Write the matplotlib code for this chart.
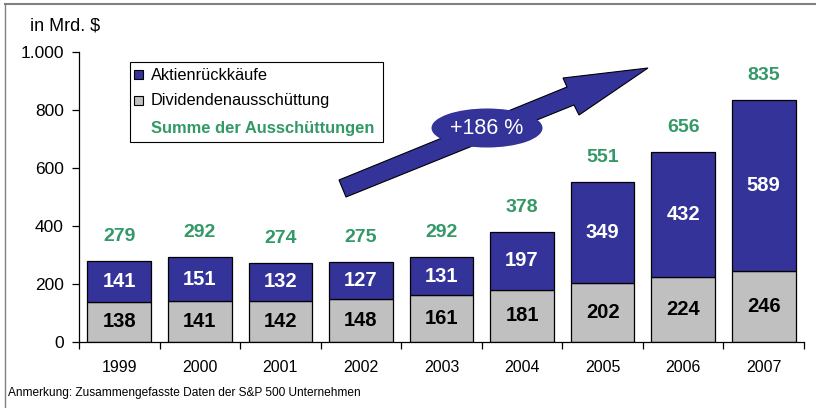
import matplotlib
matplotlib.use("Agg")
import matplotlib.pyplot as plt
from matplotlib.patches import Ellipse, Polygon, Rectangle
from matplotlib.lines import Line2D
import numpy as np

plt.rcParams['font.family'] = ['Liberation Sans', 'DejaVu Sans']

years = ["1999", "2000", "2001", "2002", "2003", "2004", "2005", "2006", "2007"]
dividends = [138, 141, 142, 148, 161, 181, 202, 224, 246]
buybacks = [141, 151, 132, 127, 131, 197, 349, 432, 589]
totals = [279, 292, 274, 275, 292, 378, 551, 656, 835]
yticks = [0, 200, 400, 600, 800, 1000]
ytick_labels = ["0", "200", "400", "600", "800", "1.000"]

BLUE = "#333399"
GRAY = "#C0C0C0"
GREEN = "#339966"

W, H = 816, 408
fig = plt.figure(figsize=(W / 100, H / 100), dpi=100)
ax = fig.add_axes([79 / W, 1 - 342 / H, (804 - 79) / W, (342 - 52) / H])

x = np.arange(len(years))
ax.bar(x, dividends, width=0.79, color=GRAY, edgecolor="black", linewidth=0.9, zorder=2)
ax.bar(x, buybacks, bottom=dividends, width=0.79, color=BLUE, edgecolor="black", linewidth=0.9, zorder=2)

for i in range(len(years)):
    ax.text(x[i], dividends[i] / 2, str(dividends[i]), ha="center", va="center",
            fontsize=14.5, fontweight="bold", color="black", zorder=3)
    ax.text(x[i], dividends[i] + buybacks[i] / 2, str(buybacks[i]), ha="center", va="center",
            fontsize=14.5, fontweight="bold", color="white", zorder=3)
    ax.text(x[i], totals[i] + 55, str(totals[i]), ha="center", va="bottom",
            fontsize=14, fontweight="bold", color=GREEN, zorder=3)

ax.set_xlim(-0.5, len(years) - 0.5)
ax.set_ylim(0, 1000)
ax.set_yticks(yticks)
ax.set_yticklabels(ytick_labels, fontsize=12.5)
ax.set_xticks(x)
ax.set_xticklabels(years, fontsize=11.5)
ax.set_xticks(np.arange(len(years) + 1) - 0.5, minor=True)
ax.tick_params(axis="x", which="major", length=0, pad=13)
ax.tick_params(axis="x", which="minor", length=5, direction="out", width=0.9)
ax.tick_params(axis="y", length=5, direction="out", width=0.9, pad=6)
for s in ["top", "right"]:
    ax.spines[s].set_visible(False)
for s in ["left", "bottom"]:
    ax.spines[s].set_linewidth(0.9)
ax.patch.set_alpha(0)

# Outer frame (top and left lines)
fig.add_artist(Line2D([5 / W, 1.0], [1 - 4 / H, 1 - 4 / H], transform=fig.transFigure,
                      color="#808080", linewidth=1.5))
fig.add_artist(Line2D([5 / W, 5 / W], [1 - 4 / H, 0.0], transform=fig.transFigure,
                      color="#808080", linewidth=1.0))

fig.text(30 / W, 1 - 26 / H, "in Mrd. $", fontsize=13, va="center", ha="left")
fig.text(8 / W, 1 - 393 / H, "Anmerkung: Zusammengefasste Daten der S&P 500 Unternehmen",
         fontsize=8.6, va="center", ha="left")

# Legend box
fig.add_artist(Rectangle((130 / W, 1 - 142 / H), (383 - 130) / W, (142 - 62) / H,
                         transform=fig.transFigure, facecolor="white", edgecolor="black",
                         linewidth=0.8, zorder=5))
for yy, col in [(75, BLUE), (101, GRAY)]:
    fig.add_artist(Rectangle((134 / W, 1 - (yy + 4) / H), 9 / W, 9 / H,
                             transform=fig.transFigure, facecolor=col, edgecolor="black",
                             linewidth=0.8, zorder=6))
fig.text(151 / W, 1 - 75 / H, "Aktienrückkäufe", fontsize=11.8, va="center", ha="left", zorder=6)
fig.text(151 / W, 1 - 101 / H, "Dividendenausschüttung", fontsize=11.8, va="center", ha="left", zorder=6)
fig.text(151 / W, 1 - 129 / H, "Summe der Ausschüttungen", fontsize=11.9, fontweight="bold",
         color=GREEN, va="center", ha="left", zorder=6)

# Arrow
pts_px = [(339, 180), (567, 87), (563, 78), (648, 68), (579, 115), (574, 105), (346, 197)]
pts = [(px / W, 1 - py / H) for px, py in pts_px]
fig.add_artist(Polygon(pts, closed=True, transform=fig.transFigure, facecolor=BLUE,
                       edgecolor="black", linewidth=0.8, zorder=4))
fig.add_artist(Ellipse((487 / W, 1 - 128 / H), 111 / W, 39 / H, transform=fig.transFigure,
                       facecolor=BLUE, edgecolor="none", zorder=5))
fig.text(487 / W, 1 - 128 / H, "+186 %", fontsize=15.5, color="white", ha="center", va="center", zorder=6)

fig.savefig("out.png", dpi=100)
